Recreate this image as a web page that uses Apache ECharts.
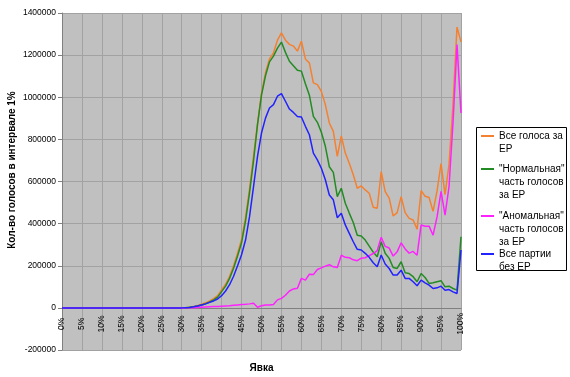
<!DOCTYPE html>
<html>
<head>
<meta charset="utf-8">
<script src="https://cdn.jsdelivr.net/npm/echarts@6/dist/echarts.min.js"></script>
<style>html,body{margin:0;padding:0;background:#fff}#c{width:570px;height:377px}</style>
</head>
<body>
<div id="c"></div>
<script>
const categories = ['0%','1%','2%','3%','4%','5%','6%','7%','8%','9%','10%','11%','12%','13%','14%','15%','16%','17%','18%','19%','20%','21%','22%','23%','24%','25%','26%','27%','28%','29%','30%','31%','32%','33%','34%','35%','36%','37%','38%','39%','40%','41%','42%','43%','44%','45%','46%','47%','48%','49%','50%','51%','52%','53%','54%','55%','56%','57%','58%','59%','60%','61%','62%','63%','64%','65%','66%','67%','68%','69%','70%','71%','72%','73%','74%','75%','76%','77%','78%','79%','80%','81%','82%','83%','84%','85%','86%','87%','88%','89%','90%','91%','92%','93%','94%','95%','96%','97%','98%','99%','100%'];

const allVotesER = [0,0,0,0,0,0,0,0,0,0,0,0,0,0,0,0,0,0,0,0,0,0,0,0,0,0,0,0,0,0,
  0,1000,3000,6000,11000,17000,24000,33000,44000,58000,
  85000,112000,150000,200000,260000,325000,430000,565000,720000,875000,
  1020000,1116000,1182000,1211000,1271000,1306000,1271000,1251000,1243000,1219000,
  1266000,1182000,1163000,1068000,1060000,1028000,965000,878000,838000,719000,
  817000,735000,687000,632000,568000,579000,560000,544000,478000,473000,
  647000,552000,521000,436000,452000,528000,452000,425000,417000,373000,
  557000,530000,524000,458000,555000,685000,537000,680000,965000,1333000,
  1263000];

const normalER = [0,0,0,0,0,0,0,0,0,0,0,0,0,0,0,0,0,0,0,0,0,0,0,0,0,0,0,0,0,0,
  0,1000,3000,5000,9000,14000,20000,28000,38000,51000,
  77000,103000,140000,188000,246000,309000,413000,546000,698000,870000,
  1010000,1102000,1168000,1195000,1233000,1262000,1213000,1171000,1150000,1128000,
  1124000,1064000,1010000,909000,881000,834000,767000,670000,643000,528000,
  568000,497000,450000,405000,345000,341000,322000,293000,265000,243000,
  314000,259000,235000,192000,187000,219000,167000,163000,148000,124000,
  163000,144000,116000,119000,124000,129000,100000,103000,92000,84000,
  338000];

const anomalousER = [0,0,0,0,0,0,0,0,0,0,0,0,0,0,0,0,0,0,0,0,0,0,0,0,0,0,0,0,0,0,
  0,0,1000,1000,2000,3000,4000,5000,6000,7000,
  8000,9000,10000,12000,14000,16000,17000,19000,22000,3000,
  10000,14000,14000,16000,38000,45000,60000,80000,90000,93000,
  140000,132000,160000,158000,182000,190000,198000,205000,195000,192000,
  250000,240000,238000,228000,224000,236000,238000,248000,258000,272000,
  335000,292000,284000,246000,266000,309000,280000,260000,268000,250000,
  393000,388000,388000,345000,432000,553000,440000,575000,880000,1250000,
  925000];

const otherParties = [0,0,0,0,0,0,0,0,0,0,0,0,0,0,0,0,0,0,0,0,0,0,0,0,0,0,0,0,0,0,
  0,1000,2000,5000,9000,14000,19000,26000,33000,42000,
  58000,80000,110000,150000,200000,252000,322000,433000,576000,719000,
  830000,901000,949000,965000,1005000,1017000,981000,944000,928000,909000,
  906000,862000,822000,735000,703000,663000,608000,536000,513000,428000,
  449000,394000,354000,314000,278000,275000,259000,240000,214000,195000,
  251000,208000,187000,156000,156000,179000,140000,140000,124000,105000,
  132000,119000,108000,92000,95000,103000,84000,87000,76000,68000,
  275000];

const seriesNames = ['Все голоса за\nЕР', '"Нормальная"\nчасть голосов\nза ЕР', '"Аномальная"\nчасть голосов\nза ЕР', 'Все партии\nбез ЕР'];
const seriesColors = ['#F5802F', '#238B23', '#FF22FF', '#2222FF'];
const seriesData = [allVotesER, normalER, anomalousER, otherParties];
const yTicks = { min: -200000, max: 1400000, step: 200000 };
const legendFirstLineY = [136, 169, 216, 254];

const FONT = '"Liberation Sans", Arial, sans-serif';
const LH = 13;
const GRID_TOP = 13, GRID_BOTTOM = 27, H = 377;
const plotH = H - GRID_TOP - GRID_BOTTOM;
// distance from the plot bottom up to the value 0 (category axis sits on zero, like Excel)
const zeroOffset = plotH * (0 - yTicks.min) / (yTicks.max - yTicks.min);

const chart = echarts.init(document.getElementById('c'), null, { renderer: 'canvas' });

const legends = seriesNames.map((name, i) => {
  const n = name.split('\n').length;
  return {
    data: [name],
    orient: 'vertical',
    left: 481,
    top: legendFirstLineY[i] - (n - 1) * LH - LH / 2,
    padding: 0,
    icon: 'rect',
    itemWidth: 13,
    itemHeight: 2,
    selectedMode: false,
    formatter: nm => '\n'.repeat(nm.split('\n').length - 1) + nm,
    textStyle: { fontFamily: FONT, fontSize: 10, color: '#000', lineHeight: LH }
  };
});

chart.setOption({
  animation: false,
  backgroundColor: '#fff',
  textStyle: { fontFamily: FONT },
  grid: { left: 62, right: 109, top: GRID_TOP, bottom: GRID_BOTTOM, show: true, backgroundColor: '#C0C0C0', borderWidth: 0, containLabel: false, outerBoundsMode: 'none' },
  legend: legends,
  graphic: [
    { type: 'rect', z: 0, shape: { x: 476.5, y: 127.5, width: 90, height: 143 }, style: { fill: '#fff', stroke: '#000', lineWidth: 1 } },
    { type: 'text', x: 12.5, y: 170, rotation: Math.PI / 2, style: { text: 'Кол-во голосов в интервале 1%', font: 'bold 10px ' + FONT, fill: '#000', align: 'center', verticalAlign: 'middle' } }
  ],
  xAxis: {
    type: 'category',
    data: categories,
    boundaryGap: false,
    offset: -zeroOffset,
    name: 'Явка',
    nameLocation: 'middle',
    nameGap: 55,
    nameTextStyle: { fontFamily: FONT, fontSize: 10, fontWeight: 'bold', color: '#000' },
    axisLine: { show: true, onZero: false, lineStyle: { color: '#808080', width: 1 } },
    axisTick: { show: false },
    axisLabel: { interval: 4, rotate: 90, align: 'center', margin: 16, fontSize: 8.5, color: '#000', fontFamily: FONT },
    splitLine: { show: true, interval: 4, lineStyle: { color: '#A2A2A2', width: 1 } }
  },
  yAxis: {
    type: 'value',
    min: yTicks.min,
    max: yTicks.max,
    interval: yTicks.step,
    axisLine: { show: true, onZero: false, lineStyle: { color: '#808080', width: 1 } },
    axisTick: { show: true, length: 4, lineStyle: { color: '#808080' } },
    axisLabel: { fontSize: 8.5, color: '#000', margin: 6, fontFamily: FONT, formatter: v => String(v) },
    splitLine: { show: true, lineStyle: { color: '#A2A2A2', width: 1 } }
  },
  series: seriesNames.map((name, i) => ({
    name: name,
    type: 'line',
    data: seriesData[i],
    symbol: 'none',
    color: seriesColors[i],
    lineStyle: { color: seriesColors[i], width: 1.5 },
    emphasis: { disabled: true }
  }))
});
</script>
</body>
</html>
